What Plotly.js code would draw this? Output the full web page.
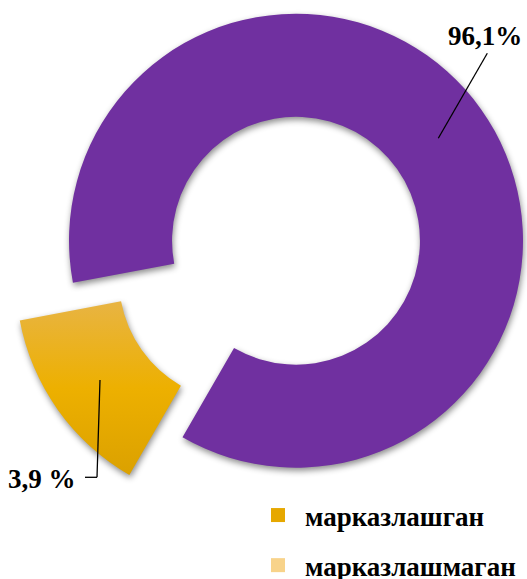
<!DOCTYPE html>
<html>
<head>
<meta charset="utf-8">
<script src="https://cdn.plot.ly/plotly-3.0.1.min.js"></script>
<style>
  html, body { margin: 0; padding: 0; background: #ffffff; }
  #chart { width: 527px; height: 579px; }
  .pielayer .slice path.surface { filter: drop-shadow(1px 3px 3px rgba(0,0,0,0.45)); }
</style>
</head>
<body>
<div id="chart"></div>
<script>
// ---- data ----
const categories   = ['марказлашган', 'марказлашмаган'];
const sliceShares  = [13.7, 86.3];            // shares as drawn (slice angles in the picture)
const shareLabels  = ['3,9 %', '96,1%'];      // printed data labels
const sliceColors  = ['#EBB000', '#7030A0'];
const legendColors = ['#E6A800', '#F8D38A'];

// ---- geometry helpers (layout only) ----
const W = 527, H = 579;
function domainFor(cx, cy, r) {
  return { x: [(cx - r) / W, (cx + r) / W], y: [1 - (cy + r) / H, 1 - (cy - r) / H] };
}
const R = 227, CX = 296, CY = 240.7, PULL = 0.287;
const bis = (210 + 360 * sliceShares[0] / 100 / 2) * Math.PI / 180;
const dx = Math.sin(bis) * PULL * R, dy = -Math.cos(bis) * PULL * R;
const px = (x) => x / W, py = (y) => 1 - y / H;

const clear = 'rgba(0,0,0,0)';
const common = {
  type: 'pie', labels: categories, values: sliceShares, sort: false,
  direction: 'clockwise', rotation: 210, hole: 0.546,
  textinfo: 'none', hoverinfo: 'skip', showlegend: false
};
const data = [
  Object.assign({}, common, {
    name: 'ring', domain: domainFor(CX, CY, R),
    marker: { colors: [clear, sliceColors[1]], line: { width: 0 } }
  }),
  Object.assign({}, common, {
    name: 'pulled', domain: domainFor(CX + dx, CY + dy, R),
    marker: { colors: [sliceColors[0], clear], line: { width: 0 } }
  }),
  { type: 'scatter', mode: 'markers', x: [null], y: [null], name: categories[0],
    legendgroup: 'a', marker: { symbol: 'square', size: 14, color: legendColors[0] }, hoverinfo: 'skip' },
  { type: 'scatter', mode: 'markers', x: [null], y: [null], name: categories[1],
    legendgroup: 'b', marker: { symbol: 'square', size: 14, color: legendColors[1] }, hoverinfo: 'skip' }
];

const labelFont = { family: 'Liberation Serif, Times New Roman, serif', size: 27, color: '#000000', weight: 700 };
const layout = {
  width: W, height: H,
  margin: { l: 0, r: 0, t: 0, b: 0, autoexpand: false },
  paper_bgcolor: '#ffffff', plot_bgcolor: '#ffffff',
  xaxis: { visible: false, range: [0, 1] },
  yaxis: { visible: false, range: [0, 1] },
  showlegend: true,
  legend: {
    x: px(251), y: py(491), xanchor: 'left', yanchor: 'top',
    traceorder: 'grouped', tracegroupgap: 12, itemwidth: 44,
    bgcolor: 'rgba(0,0,0,0)',
    font: { family: 'Liberation Serif, Times New Roman, serif', size: 27, color: '#000000', weight: 700 }
  },
  annotations: [
    { xref: 'paper', yref: 'paper', x: px(485), y: py(36), text: '<b>' + shareLabels[1] + '</b>',
      showarrow: false, xanchor: 'center', yanchor: 'middle', font: labelFont },
    { xref: 'paper', yref: 'paper', x: px(42), y: py(479), text: '<b>' + shareLabels[0] + '</b>',
      showarrow: false, xanchor: 'center', yanchor: 'middle', font: labelFont }
  ],
  shapes: [
    { type: 'line', xref: 'paper', yref: 'paper', x0: px(487.3), y0: py(53.3), x1: px(438.3), y1: py(138.3),
      line: { color: '#000000', width: 1.3 } },
    { type: 'line', xref: 'paper', yref: 'paper', x0: px(85), y0: py(477.3), x1: px(97), y1: py(477.3),
      line: { color: '#000000', width: 1.3 } },
    { type: 'line', xref: 'paper', yref: 'paper', x0: px(97), y0: py(477.3), x1: px(100), y1: py(380),
      line: { color: '#000000', width: 1.3 } }
  ]
};

const gd = document.getElementById('chart');
Plotly.newPlot(gd, data, layout, { staticPlot: true, displayModeBar: false }).then(function () {
  const ns = 'http://www.w3.org/2000/svg';
  const svg = gd.querySelector('svg.main-svg');
  const defs = document.createElementNS(ns, 'defs');
  function grad(id, stops) {
    const g = document.createElementNS(ns, 'linearGradient');
    g.setAttribute('id', id);
    g.setAttribute('x1', '0'); g.setAttribute('y1', '0');
    g.setAttribute('x2', '0'); g.setAttribute('y2', '1');
    stops.forEach(function (s) {
      const st = document.createElementNS(ns, 'stop');
      st.setAttribute('offset', s[0]); st.setAttribute('stop-color', s[1]);
      g.appendChild(st);
    });
    defs.appendChild(g);
  }
  grad('goldGrad', [['0', '#E8B443'], ['0.5', '#EDB000'], ['1', '#DBA100']]);
  svg.insertBefore(defs, svg.firstChild);
  const traces = gd.querySelectorAll('.pielayer .trace');
  if (traces.length > 1) {
    const p = traces[1].querySelectorAll('.slice path.surface')[0];
    if (p) p.style.fill = 'url(#goldGrad)';
  }
});
</script>
</body>
</html>
